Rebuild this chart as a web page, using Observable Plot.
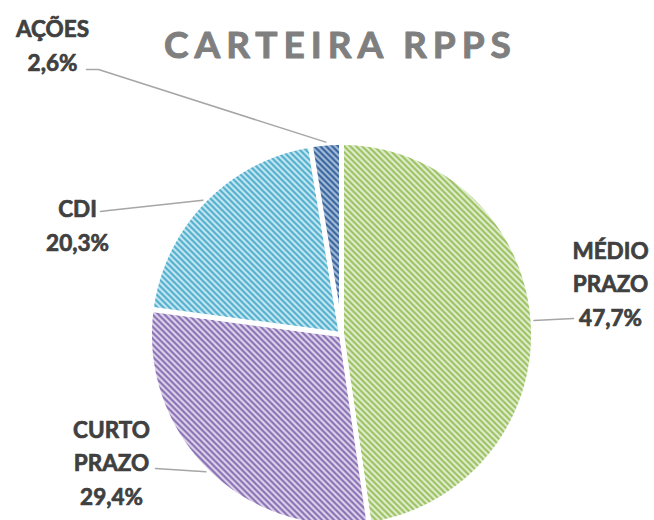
<!DOCTYPE html>
<html><head><meta charset="utf-8">
<script src="https://cdn.jsdelivr.net/npm/d3@7"></script>
<script src="https://cdn.jsdelivr.net/npm/@observablehq/plot@0.6"></script>
<style>body{margin:0;background:#fff}</style>
</head><body><div id="chart"></div>
<script>
// ---- data ----
const title = "CARTEIRA RPPS";
const categories = ["MÉDIO PRAZO", "CURTO PRAZO", "CDI", "AÇÕES"];
const values = [47.7, 29.4, 20.3, 2.6];
const nameLines = ["MÉDIO\nPRAZO", "CURTO\nPRAZO", "CDI", "AÇÕES"];
const valueLabels = ["47,7%", "29,4%", "20,3%", "2,6%"];

// ---- layout / style ----
const W = 654, H = 520;
const cx = 341, cy = 334, R = 192;
const patternIds = ["pMedio", "pCurto", "pCdi", "pAcoes"];
const stripeColors = ["#94bf55", "#8467b0", "#45aacb", "#2f5d97"];
const bgColors = ["#e9f1dd", "#e5dff0", "#d3edf5", "#b0c5e0"];
const labelPos = [[610, 281], [111, 460], [77, 223], [52, 43]];
const leaderStarts = [[[573, 318]], [[155, 468]], [[100, 211], [108, 210]], [[86, 69], [98, 69]]];

const pie = d3.pie().sort(null).value(d => d)(values);
const pt = (a, r) => [cx + r * Math.sin(a), cy - r * Math.cos(a)];

const slicePts = [];
pie.forEach((p, i) => {
  slicePts.push({cat: categories[i], x: cx, y: cy});
  const n = Math.max(4, Math.ceil((p.endAngle - p.startAngle) / (Math.PI / 360)));
  for (let k = 0; k <= n; k++) {
    const a = p.startAngle + (p.endAngle - p.startAngle) * k / n;
    const [x, y] = pt(a, R);
    slicePts.push({cat: categories[i], x, y});
  }
});

const leaderPts = [];
pie.forEach((p, i) => {
  leaderStarts[i].forEach(([x, y]) => leaderPts.push({cat: categories[i], x, y}));
  const [x, y] = pt((p.startAngle + p.endAngle) / 2, R + 1);
  leaderPts.push({cat: categories[i], x, y});
});

const labels = categories.map((c, i) => ({
  cat: c, text: nameLines[i] + "\n" + valueLabels[i], x: labelPos[i][0], y: labelPos[i][1]
}));

const chart = Plot.plot({
  width: W, height: H,
  margin: 0,
  x: {domain: [0, W], range: [0, W], axis: null},
  y: {domain: [0, H], range: [0, H], axis: null},
  color: {type: "ordinal", domain: categories, range: patternIds.map(id => `url(#${id})`)},
  style: {background: "#fff"},
  marks: [
    Plot.line(slicePts, {x: "x", y: "y", z: "cat", fill: "cat", stroke: "#fff", strokeWidth: 5, strokeLinejoin: "miter", curve: "linear-closed"}),
    Plot.line(leaderPts, {x: "x", y: "y", z: "cat", stroke: "#a6a6a6", strokeWidth: 1.5}),
    Plot.text(labels, {x: "x", y: "y", text: "text", fontSize: 22.5, fontWeight: "bold", fill: "#404040", stroke: "#404040", strokeWidth: 0.7, lineHeight: 1.5, textAnchor: "middle", lineAnchor: "middle", fontFamily: "Lato"}),
    Plot.text([title], {x: [340], y: [46], text: d => d, fontSize: 37, fontWeight: "bold", fill: "#7f7f7f", stroke: "#7f7f7f", strokeWidth: 1, fontFamily: "Lato", lineAnchor: "middle"})
  ]
});

// patterns
const svg = d3.select(chart);
const defs = svg.insert("defs", ":first-child");
patternIds.forEach((id, i) => {
  const p = defs.append("pattern").attr("id", id).attr("patternUnits", "userSpaceOnUse").attr("width", 6).attr("height", 6);
  p.append("rect").attr("width", 6).attr("height", 6).attr("fill", bgColors[i]);
  p.append("path").attr("d", "M-1,-1L7,7M-1,5L1,7M5,-1L7,1").attr("stroke", stripeColors[i]).attr("stroke-width", 2.2);
});
svg.selectAll("text").filter(function() { return this.textContent === title; }).attr("letter-spacing", "6px");

document.getElementById("chart").appendChild(chart);
</script>
</body></html>
